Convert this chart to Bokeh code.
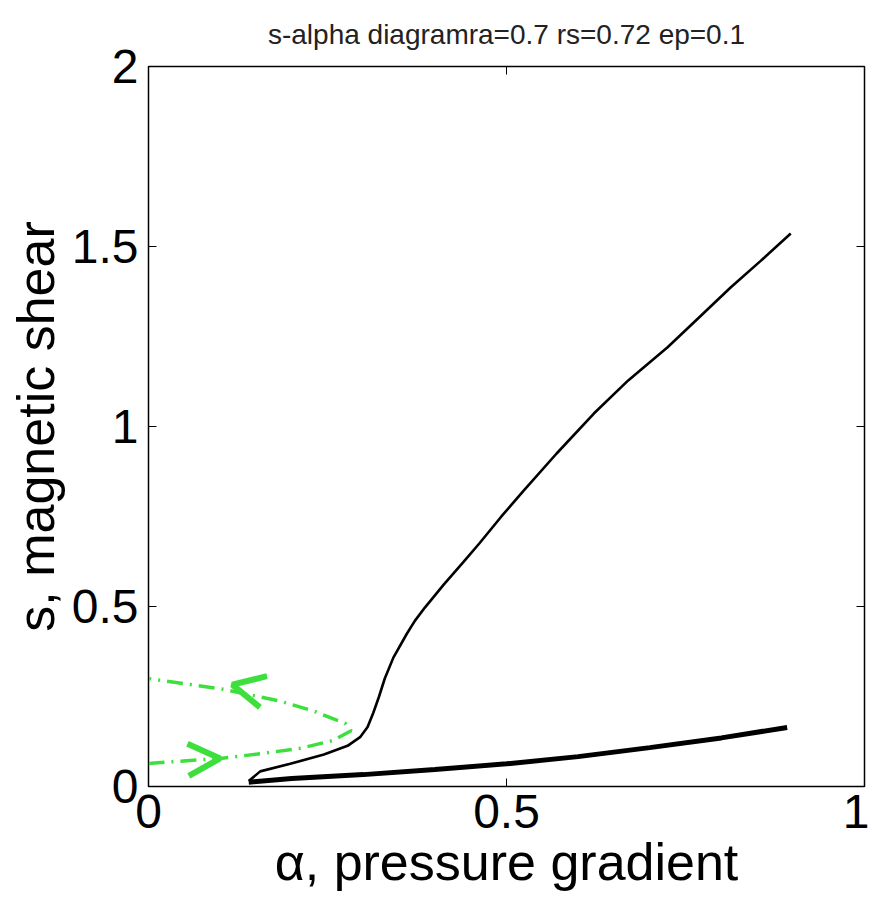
from bokeh.plotting import figure
from bokeh.models import Range1d, LinearAxis, FixedTicker, Arrow, OpenHead
from bokeh.embed import file_html
from bokeh.resources import INLINE

# --- data ---
title_text = "s-alpha diagramra=0.7 rs=0.72 ep=0.1"
x_label = "\u03b1, pressure gradient"
y_label = "s, magnetic shear"
x_ticks = [0, 0.5, 1]
y_ticks = [0, 0.5, 1, 1.5, 2]

upper_alpha = [0.140, 0.156, 0.198, 0.245, 0.278, 0.296, 0.306, 0.314, 0.322, 0.330, 0.342,
               0.361, 0.372, 0.386, 0.412, 0.440, 0.462, 0.492, 0.524, 0.570, 0.622, 0.670,
               0.725, 0.770, 0.813, 0.855, 0.897]
upper_s = [0.015, 0.042, 0.063, 0.089, 0.113, 0.138, 0.165, 0.205, 0.250, 0.300, 0.358,
           0.425, 0.460, 0.497, 0.560, 0.624, 0.675, 0.748, 0.822, 0.925, 1.036, 1.128,
           1.220, 1.305, 1.386, 1.460, 1.536]

lower_alpha = [0.140, 0.200, 0.300, 0.400, 0.500, 0.600, 0.700, 0.800, 0.892]
lower_s = [0.012, 0.022, 0.033, 0.047, 0.063, 0.083, 0.108, 0.135, 0.164]

green_alpha = [0.000, 0.100, 0.152, 0.212, 0.258, 0.283, 0.275, 0.230, 0.184, 0.105, 0.000]
green_s = [0.064, 0.078, 0.090, 0.106, 0.128, 0.155, 0.175, 0.210, 0.237, 0.270, 0.300]

arrow_x_start = [0.190, 0.030]
arrow_y_start = [0.250, 0.072]
arrow_x_end = [0.117, 0.100]
arrow_y_end = [0.283, 0.078]

FONT = "Liberation Sans"
GREEN = "#3ddf3d"

p = figure(width=869, height=906, output_backend="svg", toolbar_location=None,
           x_range=Range1d(0, 1), y_range=Range1d(0, 2),
           min_border_left=148, min_border_right=5, min_border_top=66, min_border_bottom=120,
           title=title_text)
p.background_fill_color = "white"
p.border_fill_color = "white"
p.outline_line_color = "black"
p.outline_line_width = 1.5
p.xgrid.visible = False
p.ygrid.visible = False

p.title.align = "center"
p.title.text_font = FONT
p.title.text_font_size = "28px"
p.title.text_font_style = "normal"
p.title.text_color = "#222222"
p.title.standoff = 33

for ax, ticks in ((p.xaxis[0], x_ticks), (p.yaxis[0], y_ticks)):
    ax.ticker = FixedTicker(ticks=ticks)
    ax.major_tick_in = 8
    ax.major_tick_out = 0
    ax.minor_tick_line_color = None
    ax.axis_line_color = "black"
    ax.major_label_text_font = FONT
    ax.major_label_text_font_size = "48px"
    ax.major_label_text_color = "black"
    ax.axis_label_text_font = FONT
    ax.axis_label_text_font_size = "52px"
    ax.axis_label_text_font_style = "normal"
    ax.axis_label_text_color = "black"

p.xaxis[0].axis_label = x_label
p.yaxis[0].axis_label = y_label
p.xaxis[0].major_label_standoff = 8
p.xaxis[0].axis_label_standoff = 2
p.yaxis[0].major_label_standoff = 10
p.yaxis[0].axis_label_standoff = 4
p.xaxis[0].major_label_overrides = {0: "0", 0.5: "0.5", 1: "1"}
p.yaxis[0].major_label_overrides = {0: "0", 0.5: "0.5", 1: "1", 1.5: "1.5", 2: "2"}

top_ax = LinearAxis(ticker=FixedTicker(ticks=x_ticks), major_tick_in=8, major_tick_out=0,
                    minor_tick_line_color=None, major_label_text_color=None,
                    major_label_text_font_size="1px",
                    major_label_standoff=0, axis_line_color="black")
right_ax = LinearAxis(ticker=FixedTicker(ticks=y_ticks), major_tick_in=8, major_tick_out=0,
                      minor_tick_line_color=None, major_label_text_color=None,
                      major_label_text_font_size="1px",
                      major_label_standoff=0, axis_line_color="black")
p.add_layout(top_ax, "above")
p.add_layout(right_ax, "right")

p.line(green_alpha, green_s, line_color=GREEN, line_width=3.5, line_dash="16 7 2 7")
p.line(lower_alpha, lower_s, line_color="black", line_width=5)
p.line(upper_alpha, upper_s, line_color="black", line_width=2.6)

for xs, ys, xe, ye in zip(arrow_x_start, arrow_y_start, arrow_x_end, arrow_y_end):
    p.add_layout(Arrow(end=OpenHead(size=32, line_color=GREEN, line_width=6),
                       x_start=xs, y_start=ys, x_end=xe, y_end=ye,
                       line_alpha=0))

open("out.html", "w").write(file_html(p, INLINE))
